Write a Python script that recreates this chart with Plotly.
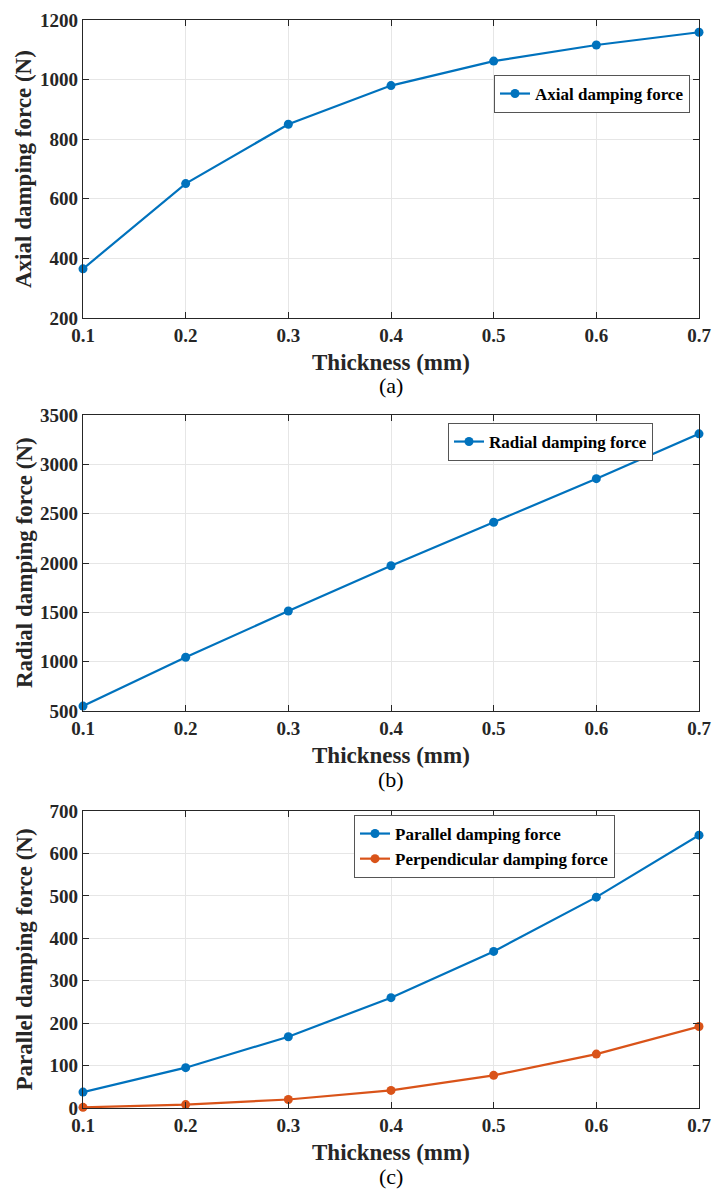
import plotly.graph_objects as go

thickness = [0.1, 0.2, 0.3, 0.4, 0.5, 0.6, 0.7]
axial_force = [365, 651, 850, 980, 1062, 1116, 1159]
radial_force = [550, 1045, 1513, 1972, 2413, 2855, 3309]
parallel_force = [37.5, 95, 168, 260, 369, 497, 643]
perpendicular_force = [1.5, 8, 20, 41.5, 77, 127, 192]

x_ticks = [0.1, 0.2, 0.3, 0.4, 0.5, 0.6, 0.7]
x_tick_text = ["0.1", "0.2", "0.3", "0.4", "0.5", "0.6", "0.7"]

BLUE = "#0072BD"
ORANGE = "#D95319"
FONT = "Liberation Serif, Times New Roman, serif"
TXT = "#262626"

W, H = 712, 1190


def px(x):
    return x / W


def py(y):
    return 1 - y / H


x0, x1 = px(83), px(699)
panels = [(20, 318), (415, 711), (811, 1108)]
doms = [[py(b), py(t)] for t, b in panels]

fig = go.Figure()


def add(x, y, color, name, xa, ya, legend):
    fig.add_trace(go.Scatter(
        x=x, y=y, mode="lines+markers", name=name,
        line=dict(color=color, width=2.2),
        marker=dict(color=color, size=9, symbol="circle"),
        xaxis=xa, yaxis=ya, legend=legend, cliponaxis=False))


add(thickness, axial_force, BLUE, "Axial damping force", "x", "y", "legend")
add(thickness, radial_force, BLUE, "Radial damping force", "x2", "y2", "legend2")
add(thickness, parallel_force, BLUE, "Parallel damping force", "x3", "y3", "legend3")
add(thickness, perpendicular_force, ORANGE, "Perpendicular damping force", "x3", "y3", "legend3")

axis_common = dict(
    showline=True, linecolor="#262626", linewidth=1.2, mirror="allticks",
    ticks="inside", ticklen=6, tickwidth=1, tickcolor="#262626",
    showgrid=True, gridcolor="#E6E6E6", gridwidth=1, zeroline=False,
    automargin=False,
    tickfont=dict(family=FONT, size=19, color=TXT, weight="bold"),
)

yranges = [[200, 1200], [500, 3500], [0, 700]]
ydticks = [200, 500, 100]
for i in range(3):
    sfx = "" if i == 0 else str(i + 1)
    fig.update_layout(**{
        "xaxis" + sfx: dict(axis_common, domain=[x0, x1], range=[0.1, 0.7],
                            tickvals=x_ticks, ticktext=x_tick_text,
                            anchor="y" + sfx),
        "yaxis" + sfx: dict(axis_common, domain=doms[i], range=yranges[i],
                            dtick=ydticks[i], tick0=0, anchor="x" + sfx),
    })

ytitles = ["Axial damping force (N)", "Radial damping force (N)", "Parallel damping force (N)"]
labels = ["(a)", "(b)", "(c)"]
for i, (t, b) in enumerate(panels):
    mid = (t + b) / 2
    fig.add_annotation(text=ytitles[i], textangle=-90, x=px(24), y=py(mid),
                       xref="paper", yref="paper", showarrow=False,
                       xanchor="center", yanchor="middle",
                       font=dict(family=FONT, size=23, color=TXT, weight="bold"))
    fig.add_annotation(text="Thickness (mm)", x=px(391), y=py(b + 44),
                       xref="paper", yref="paper", showarrow=False,
                       xanchor="center", yanchor="middle",
                       font=dict(family=FONT, size=23, color=TXT, weight="bold"))
    fig.add_annotation(text=labels[i], x=px(391), y=py(b + 68),
                       xref="paper", yref="paper", showarrow=False,
                       xanchor="center", yanchor="middle",
                       font=dict(family=FONT, size=22, color="#000000"))

leg_common = dict(bgcolor="white", bordercolor="#555555", borderwidth=1,
                  font=dict(family=FONT, size=17, color="#000000", weight="bold"),
                  xanchor="left", yanchor="top", itemwidth=30,
                  tracegroupgap=0)

fig.update_layout(
    width=W, height=H, margin=dict(l=0, r=0, t=0, b=0),
    paper_bgcolor="white", plot_bgcolor="white", showlegend=True,
    legend=dict(leg_common, x=px(494), y=py(75)),
    legend2=dict(leg_common, x=px(448), y=py(423)),
    legend3=dict(leg_common, x=px(354), y=py(815)),
)

fig.write_html(
    "out.html",
    config={"displayModeBar": False},
    post_script="document.body.style.margin='0';document.body.style.overflow='hidden';",
)
